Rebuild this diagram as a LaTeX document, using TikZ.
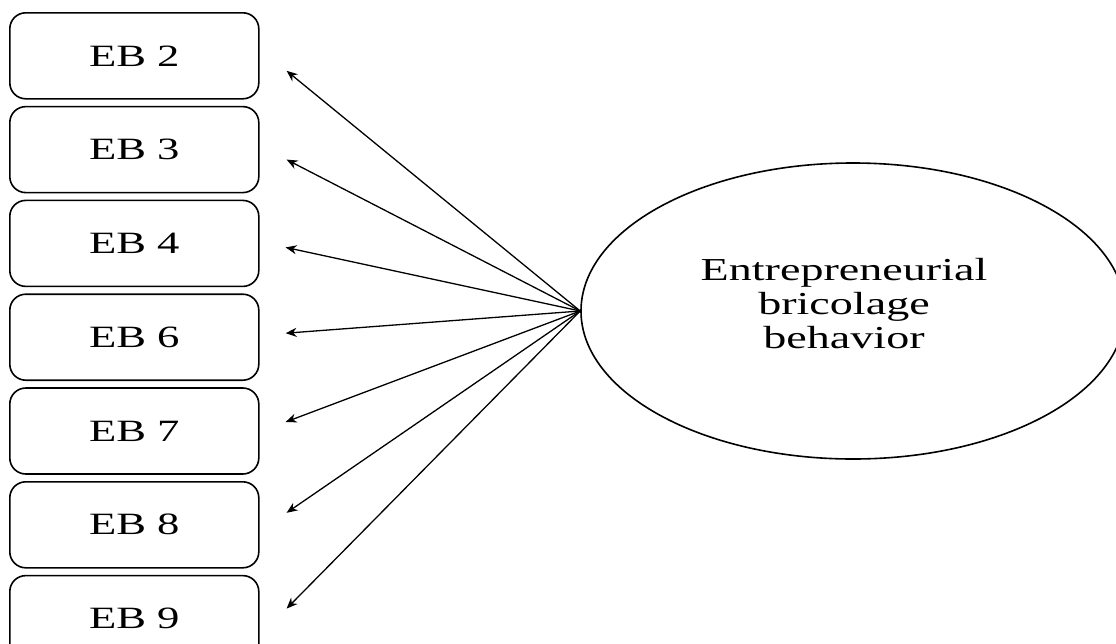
\documentclass[tikz,border=0pt]{standalone}
\usepackage{fontspec}
\setmainfont{Liberation Serif}
\newfontfamily\widefont[FakeStretch=1.44]{Liberation Serif}
\usetikzlibrary{shapes.geometric, arrows.meta, positioning}
\tikzset{
  item/.style = {rectangle, rounded corners=16pt, minimum width=249pt, minimum height=86pt,
                 inner sep=0pt, align=center, draw, line width=1.6pt,
                 font=\widefont\fontsize{31}{34}\selectfont},
  latent/.style = {ellipse, minimum width=544pt, minimum height=296pt, inner sep=0pt,
                   draw, line width=1.6pt},
  arrow/.style = {-{Stealth[length=11pt,width=9pt]}, line width=1.3pt},
}
\begin{document}
\begin{tikzpicture}[x=1pt, y=1pt,
  caption/.style = {align=center, font=\widefont\fontsize{32}{34}\selectfont},
]
\clip (0,0) rectangle (1116,-643);

% Indicator boxes
\node[item, anchor=north west] (eb2) at (9,-12) {EB 2};
\node[item, below=6.2pt of eb2] (eb3) {EB 3};
\node[item, below=6.2pt of eb3] (eb4) {EB 4};
\node[item, below=6.2pt of eb4] (eb6) {EB 6};
\node[item, below=6.2pt of eb6] (eb7) {EB 7};
\node[item, below=6.2pt of eb7] (eb8) {EB 8};
\node[item, below=6.2pt of eb8] (eb9) {EB 9};

% Latent variable
\node[latent] (ebb) at (853,-311) {};
\node[caption] (ebbtext) at (844,-304) {Entrepreneurial\\bricolage\\behavior};

% Arrow ends
\coordinate (t2) at ([xshift=27pt,yshift=-15pt]eb2.east);
\coordinate (t3) at ([xshift=27pt,yshift=-10pt]eb3.east);
\coordinate (t4) at ([xshift=26pt,yshift=-4pt]eb4.east);
\coordinate (t6) at ([xshift=26pt,yshift=4pt]eb6.east);
\coordinate (t7) at ([xshift=26pt,yshift=9pt]eb7.east);
\coordinate (t8) at ([xshift=27pt,yshift=12pt]eb8.east);
\coordinate (t9) at ([xshift=27pt,yshift=10pt]eb9.east);

% Loadings
\draw[arrow] (ebb.west) -- (t2);
\draw[arrow] (ebb.west) -- (t3);
\draw[arrow] (ebb.west) -- (t4);
\draw[arrow] (ebb.west) -- (t6);
\draw[arrow] (ebb.west) -- (t7);
\draw[arrow] (ebb.west) -- (t8);
\draw[arrow] (ebb.west) -- (t9);
\end{tikzpicture}
\end{document}
